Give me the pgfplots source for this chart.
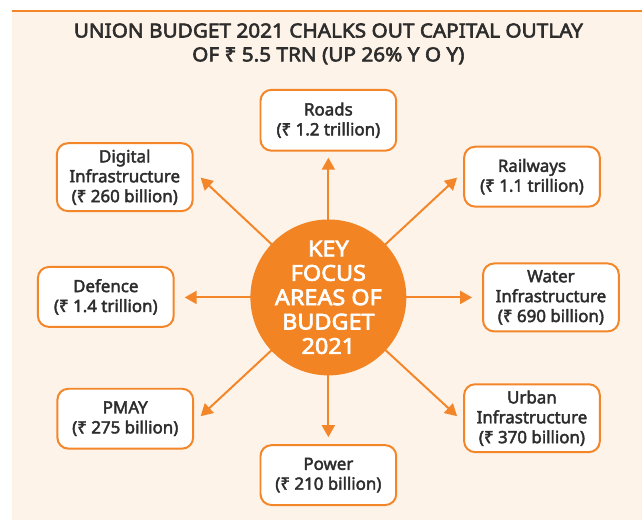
\documentclass[border=0pt]{standalone}
\usepackage{pgfplots}
\pgfplotsset{compat=1.18}
\usepackage{fontspec}
\usetikzlibrary{arrows.meta}
\setmainfont{Noto Sans}
\newfontfamily\boxfont[FakeBold=2.5]{Noto Sans}
\newfontfamily\titlefont[FakeBold=3, FakeStretch=1.07]{Noto Sans}
\newfontfamily\circfont[FakeBold=3, FakeStretch=1.07]{Noto Sans}

\definecolor{bgpeach}{HTML}{FEF3E8}
\definecolor{borange}{HTML}{F4862A}
\definecolor{corange}{HTML}{F38423}
\definecolor{txtdark}{HTML}{2D2D2D}

\pgfplotsset{
  focusbox/.style={
    only marks, mark=none,
    every node near coord/.append style={
      anchor=center, draw=borange, line width=2bp, fill=white,
      rounded corners=11bp, minimum width=136bp, minimum height=#1,
      align=center, inner sep=0pt, text=txtdark,
      font=\boxfont\fontsize{17}{20}\selectfont},
  },
  focusbox/.default=60bp,
}

\begin{document}
\begin{tikzpicture}
\begin{axis}[
    scale only axis, width=643bp, height=521bp,
    xmin=0, xmax=643, ymin=0, ymax=521,
    y dir=reverse, hide axis, clip=false,
]
\path (axis cs:0,0) rectangle (axis cs:643,521);
% background panel
\addplot[fill=bgpeach, draw=none] coordinates {(12,11) (643,11) (643,521) (12,521)} -- cycle;
\addplot[borange, line width=2.5bp, mark=none] coordinates {(12,11) (643,11)};

% arrows from the centre to each area
\addplot[quiver={u=\thisrow{u}, v=\thisrow{v}}, mark=none, draw=borange,
    line width=2bp, -{Triangle[length=12bp, width=13bp]}] table {
x   y   u     v
329 298 0    -140
329 298 129  -120
329 298 144   0
329 298 129   119
329 298 0     140
329 298 -128  119
329 298 -144  0
329 298 -128 -120
};

% centre circle
\addplot[only marks, mark=none, nodes near coords={KEY\\FOCUS\\AREAS OF\\BUDGET\\2021},
    every node near coord/.append style={anchor=center, circle, fill=corange,
      minimum size=152bp, inner sep=0pt, align=center, text=white,
      font=\circfont\fontsize{22}{24.5}\selectfont}]
  coordinates {(329,298)};

% focus areas
\addplot[focusbox=61bp, nodes near coords={Roads\\(₹ 1.2 trillion)}] coordinates {(329,120.5)};
\addplot[focusbox, nodes near coords={Railways\\(₹ 1.1 trillion)}] coordinates {(533,177)};
\addplot[focusbox=68bp, nodes near coords={Water\\Infrastructure\\(₹ 690 billion)}] coordinates {(552,298)};
\addplot[focusbox=68bp, nodes near coords={Urban\\Infrastructure\\(₹ 370 billion)}] coordinates {(533,419)};
\addplot[focusbox, nodes near coords={Power\\(₹ 210 billion)}] coordinates {(329,476)};
\addplot[focusbox, nodes near coords={PMAY\\(₹ 275 billion)}] coordinates {(125.5,419.5)};
\addplot[focusbox, nodes near coords={Defence\\(₹ 1.4 trillion)}] coordinates {(106,297.5)};
\addplot[focusbox=68bp, nodes near coords={Digital\\Infrastructure\\(₹ 260 billion)}] coordinates {(125,177.5)};

\node[align=center, text=txtdark, font=\titlefont\fontsize{19.5}{24}\selectfont]
  at (axis cs:329,44) {UNION BUDGET 2021 CHALKS OUT CAPITAL OUTLAY\\OF ₹ 5.5 TRN (UP 26\% Y O Y)};
\end{axis}
\end{tikzpicture}
\end{document}
